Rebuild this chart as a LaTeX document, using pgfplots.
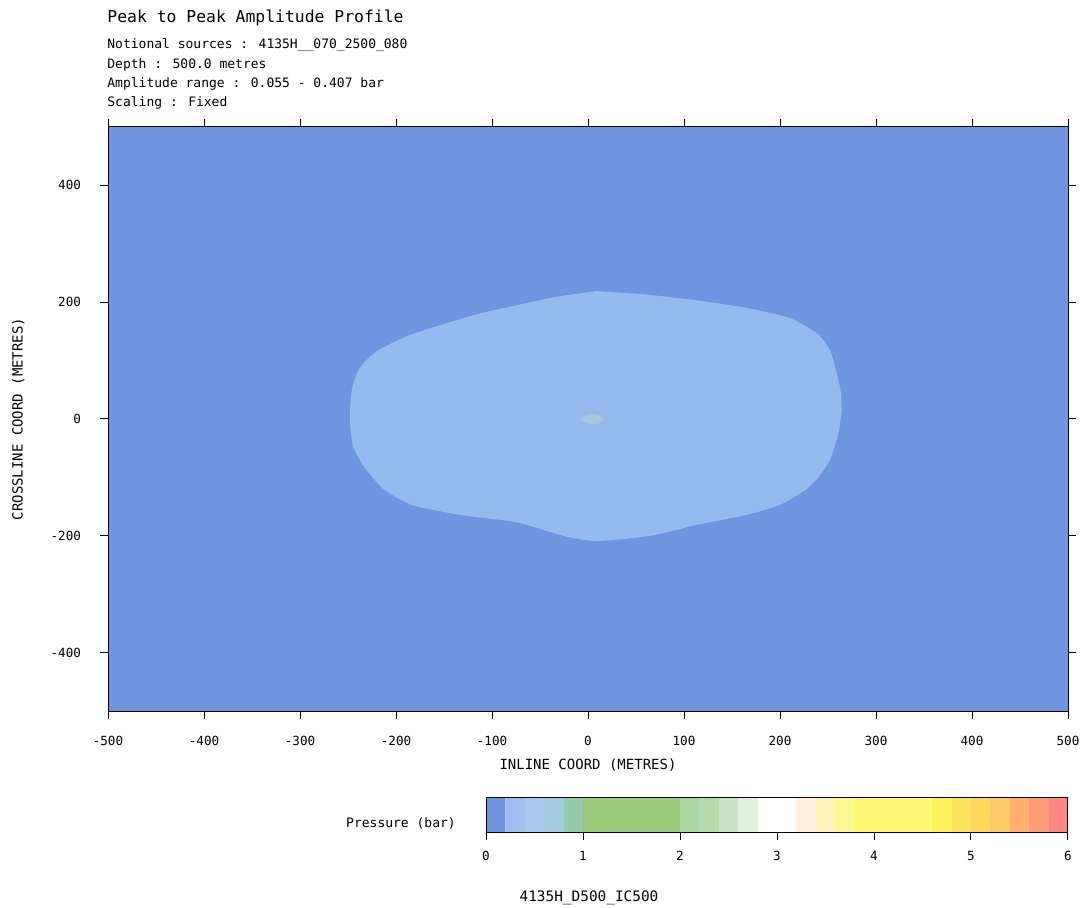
\documentclass[border=0pt]{standalone}
\usepackage{fontspec}
\setmainfont{DejaVu Sans Mono}
\usepackage{pgfplots}
\pgfplotsset{compat=1.18}

\definecolor{bgblue}{RGB}{111,148,224}
\definecolor{blobblue}{RGB}{150,185,238}
\definecolor{spotc}{RGB}{166,200,218}

\newcommand{\seg}[3]{\addplot[fill=#3, draw=none] coordinates {(#1,0) (#2,0) (#2,1) (#1,1)} -- cycle;}

\begin{document}
\begin{tikzpicture}
\useasboundingbox (0,0) rectangle (540.5pt,453.5pt);

% main map
\begin{axis}[
  at={(54pt,98pt)}, anchor=south west, scale only axis,
  width=480pt, height=292pt,
  xmin=-500, xmax=500, ymin=-500, ymax=500,
  xtick={-500,-400,...,500}, ytick={-400,-200,...,400},
  tick align=outside, major tick length=4pt,
  tick style={black, line width=0.5pt},
  axis line style={black, line width=0.5pt},
  axis on top,
  /pgf/number format/assume math mode=true,
  ticklabel style={font=\fontsize{6.3}{7}\selectfont},
  xticklabel style={yshift=-5pt},
  yticklabel style={xshift=-6pt},
  xlabel={INLINE COORD (METRES)},
  ylabel={CROSSLINE COORD (METRES)},
  every axis x label/.style={at={(axis description cs:0.5,-0.0925)}, anchor=center, font=\fontsize{7}{8}\selectfont},
  every axis y label/.style={at={(axis description cs:-0.0935,0.5)}, rotate=90, anchor=center, font=\fontsize{7}{8}\selectfont},
]
\addplot[fill=bgblue, draw=none] coordinates {(-500,-500) (500,-500) (500,500) (-500,500)} -- cycle;
\addplot[fill=blobblue, draw=none, smooth, tension=0.4] coordinates {
 (9,219) (61,213) (114,203) (166,190) (210,173) (239,146) (252,118) (258,85)
 (263,50) (264,10) (260,-30) (252,-70) (240,-100) (226,-122) (200,-147)
 (166,-164) (114,-181) (65,-200) (9,-209) (-26,-200) (-74,-177) (-130,-165)
 (-182,-148) (-213,-120) (-234,-80) (-245,-45) (-248,0) (-246,50) (-238,87)
 (-220,116) (-185,144) (-123,176) (-74,195) (-30,210) (9,219)} -- cycle;
\addplot[fill=spotc, draw=none, smooth] coordinates {
 (17,0) (13,6) (5,9) (-3,6) (-7,0) (-3,-6) (5,-9) (13,-6) (17,0)} -- cycle;
\end{axis}

% colour bar
\begin{axis}[
  at={(243pt,37.5pt)}, anchor=south west, scale only axis,
  width=291pt, height=17.5pt,
  xmin=0, xmax=6, ymin=0, ymax=1,
  xtick={0,1,...,6}, ytick=\empty,
  xtick pos=bottom,
  tick align=outside, major tick length=4pt,
  tick style={black, line width=0.5pt},
  axis line style={black, line width=0.5pt},
  axis on top,
  /pgf/number format/assume math mode=true,
  ticklabel style={font=\fontsize{6.3}{7}\selectfont},
  xticklabel style={yshift=-2pt},
]
\seg{0}{0.2}{bgblue}
\seg{0.2}{0.4}{{rgb,255:red,158;green,190;blue,240}}
\seg{0.4}{0.6}{{rgb,255:red,168;green,200;blue,240}}
\seg{0.6}{0.8}{{rgb,255:red,160;green,204;blue,222}}
\seg{0.8}{1.0}{{rgb,255:red,150;green,204;blue,170}}
\seg{1.0}{2.0}{{rgb,255:red,156;green,200;blue,122}}
\seg{2.0}{2.2}{{rgb,255:red,172;green,212;blue,160}}
\seg{2.2}{2.4}{{rgb,255:red,182;green,218;blue,174}}
\seg{2.4}{2.6}{{rgb,255:red,200;green,228;blue,196}}
\seg{2.6}{2.8}{{rgb,255:red,224;green,240;blue,220}}
\seg{2.8}{3.2}{white}
\seg{3.2}{3.4}{{rgb,255:red,255;green,240;blue,220}}
\seg{3.4}{3.6}{{rgb,255:red,255;green,244;blue,184}}
\seg{3.6}{3.8}{{rgb,255:red,255;green,248;blue,144}}
\seg{3.8}{4.6}{{rgb,255:red,255;green,248;blue,112}}
\seg{4.6}{4.8}{{rgb,255:red,255;green,240;blue,96}}
\seg{4.8}{5.0}{{rgb,255:red,255;green,228;blue,96}}
\seg{5.0}{5.2}{{rgb,255:red,255;green,216;blue,96}}
\seg{5.2}{5.4}{{rgb,255:red,255;green,200;blue,104}}
\seg{5.4}{5.6}{{rgb,255:red,255;green,176;blue,112}}
\seg{5.6}{5.8}{{rgb,255:red,255;green,156;blue,120}}
\seg{5.8}{6.0}{{rgb,255:red,255;green,136;blue,128}}
\end{axis}

% texts
\node[anchor=west, inner sep=0pt, font=\fontsize{8.2}{9}\selectfont] at (53.5pt,444.5pt) {Peak to Peak Amplitude Profile};
\node[anchor=west, inner sep=0pt, font=\fontsize{6.5}{8}\selectfont] at (53.5pt,431pt) {Notional sources : 4135H\_\_070\_2500\_080};
\node[anchor=west, inner sep=0pt, font=\fontsize{6.5}{8}\selectfont] at (53.5pt,421pt) {Depth : 500.0 metres};
\node[anchor=west, inner sep=0pt, font=\fontsize{6.5}{8}\selectfont] at (53.5pt,411.5pt) {Amplitude range : 0.055 - 0.407 bar};
\node[anchor=west, inner sep=0pt, font=\fontsize{6.5}{8}\selectfont] at (53.5pt,402pt) {Scaling : Fixed};
\node[anchor=center, inner sep=0pt, font=\fontsize{6.5}{8}\selectfont] at (200.5pt,42pt) {Pressure (bar)};
\node[anchor=center, inner sep=0pt, font=\fontsize{7.2}{8}\selectfont] at (294.5pt,4.5pt) {4135H\_D500\_IC500};
\end{tikzpicture}
\end{document}
